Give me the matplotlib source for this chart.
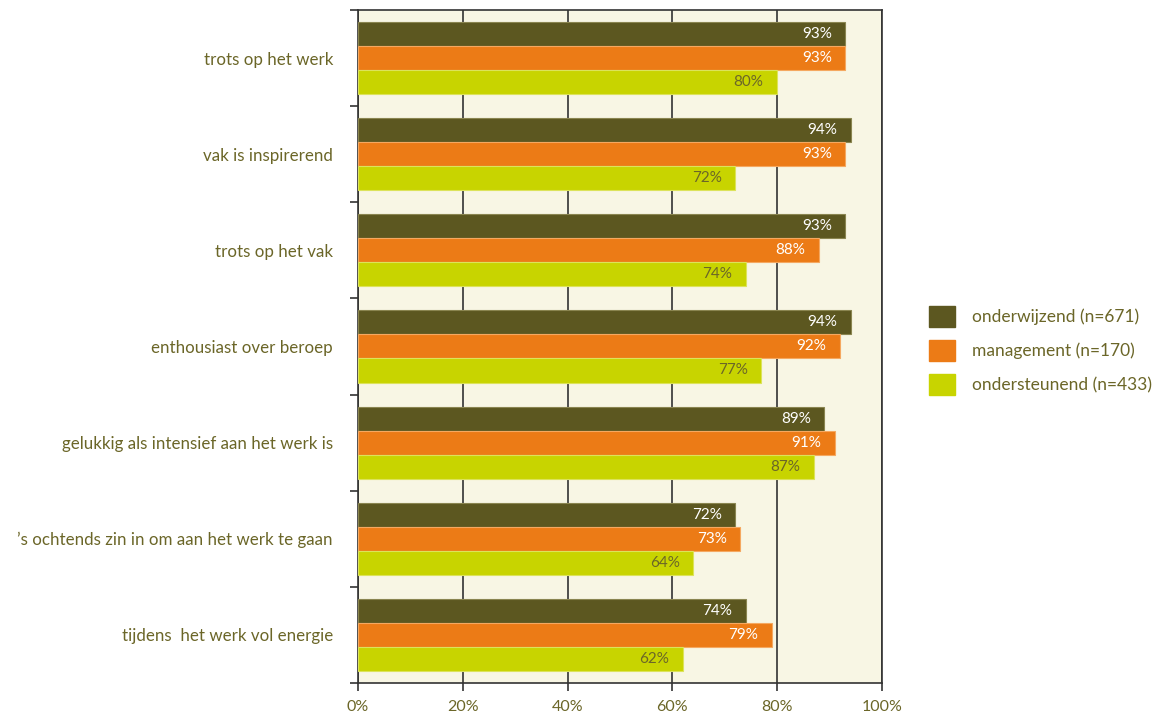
import numpy as np
import matplotlib.pyplot as plt
from matplotlib.patches import Patch

plt.rcParams['font.family'] = ['Lato', 'DejaVu Sans']

categories = [
    "trots op het werk",
    "vak is inspirerend",
    "trots op het vak",
    "enthousiast over beroep",
    "gelukkig als intensief aan het werk is",
    "\u2019s ochtends zin in om aan het werk te gaan",
    "tijdens  het werk vol energie",
]
series_names = ["onderwijzend (n=671)", "management (n=170)", "ondersteunend (n=433)"]
onderwijzend = [93, 94, 93, 94, 89, 72, 74]
management = [93, 93, 88, 92, 91, 73, 79]
ondersteunend = [80, 72, 74, 77, 87, 64, 62]
x_ticks = [0, 20, 40, 60, 80, 100]

colors = ["#5c5720", "#ec7b16", "#c8d400"]
edge_colors = ["#8a8550", "#f5a860", "#dce35a"]
label_colors = ["white", "white", "#6b6628"]
text_color = "#6b6628"
bg = "#f8f6e4"

fig = plt.figure(figsize=(11.6, 7.15), dpi=100)
ax = fig.add_axes([0.3086, 0.0448, 0.4517, 0.9413])
ax.set_facecolor(bg)

n = len(categories)
centers = np.arange(n)
bar_h = 0.25
values = [onderwijzend, management, ondersteunend]
for i, (vals, c, ec, lc) in enumerate(zip(values, colors, edge_colors, label_colors)):
    y = centers + (i - 1) * bar_h
    bars = ax.barh(y, vals, height=bar_h, color=c, edgecolor=ec, linewidth=0.8, zorder=3)
    for b, v in zip(bars, vals):
        ax.text(v - 2.6, b.get_y() + bar_h / 2, f"{v}%", ha="right", va="center",
                color=lc, fontsize=11, zorder=4)

ax.set_xlim(0, 100)
ax.set_ylim(n - 0.5, -0.5)
ax.set_xticks(x_ticks)
ax.set_xticklabels([f"{t}%" for t in x_ticks], color=text_color, fontsize=11.5)
ax.tick_params(axis="x", direction="out", length=6, width=1.2, color="#333333", pad=6)
ax.xaxis.grid(True, color="#333333", linewidth=1.2, zorder=0)
ax.set_axisbelow(True)

ax.set_yticks(centers)
ax.set_yticklabels(categories, color=text_color, fontsize=12.2)
ax.tick_params(axis="y", which="major", length=0, pad=18)
ax.set_yticks(np.arange(n + 1) - 0.5, minor=True)
ax.tick_params(axis="y", which="minor", direction="out", length=6, width=1.2, color="#333333")

for s in ax.spines.values():
    s.set_color("#333333")
    s.set_linewidth(1.2)

handles = [Patch(facecolor=c, edgecolor=c) for c in colors]
fig.legend(handles, series_names, loc="center left", bbox_to_anchor=(0.787, 0.51),
           frameon=False, fontsize=12.5, labelcolor=text_color,
           handlelength=1.5, handleheight=1.5, handletextpad=1.0, labelspacing=0.75)

fig.savefig("out.png", dpi=100)
